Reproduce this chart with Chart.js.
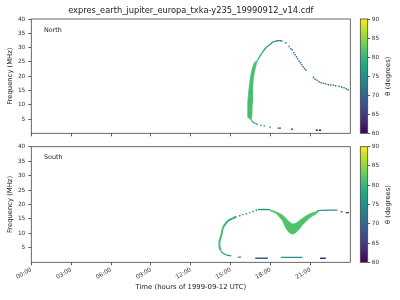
<!DOCTYPE html>
<html>
<head>
<meta charset="utf-8">
<script src="https://cdn.jsdelivr.net/npm/chart.js@4.4.1/dist/chart.umd.min.js"></script>
<style>
  html, body { margin: 0; padding: 0; background: #fff; }
  #wrap { position: relative; width: 400px; height: 300px; overflow: hidden; }
  canvas { position: absolute; }
</style>
</head>
<body>
<div id="wrap">
  <canvas id="north" width="381" height="140" style="left:0;top:0"></canvas>
  <canvas id="south" width="381" height="160" style="left:0;top:140px"></canvas>
  <canvas id="cbNorth" width="48" height="140" style="left:352px;top:0"></canvas>
  <canvas id="cbSouth" width="48" height="160" style="left:352px;top:140px"></canvas>
</div>
<script>
// axes
const hourTicks = [0, 3, 6, 9, 12, 15, 18, 21];
const hourLabels = ['00:00', '03:00', '06:00', '09:00', '12:00', '15:00', '18:00', '21:00'];
const freqTicks = [5, 10, 15, 20, 25, 30, 35, 40];
const thetaTicks = [60, 65, 70, 75, 80, 85, 90];

// North: thick band (left edge up, right edge down), time in hours, freq in MHz
const northBandT = [16.28, 16.28, 16.33, 16.40, 16.48, 16.60, 16.78, 17.03, 16.90, 16.78, 16.70, 16.65, 16.63, 16.60, 16.50];
const northBandF = [5.5, 10.7, 13.7, 16.6, 19.5, 22.4, 24.7, 25.7, 23.6, 21.2, 18.9, 15.4, 10.7, 6.0, 4.7];
const northBandTheta = 81;

// North: arc from band top to the peak
const northArcT = [17.03, 17.2, 17.45, 17.7, 17.96, 18.15, 18.4, 18.65, 18.9];
const northArcF = [25.7, 27.0, 28.8, 30.2, 31.1, 31.9, 32.3, 32.4, 32.3];
const northArcTheta = [80, 78.5, 77, 76, 75, 74, 73.5, 73, 72.5];

// North: dotted descent
const northDotsT = [19.15, 19.4, 19.53, 19.63, 19.75, 19.85, 19.95, 20.03, 20.15, 20.25, 20.35, 20.45, 20.55, 20.65,
  21.23, 21.35, 21.5, 21.65, 21.8, 21.98, 22.15, 22.35, 22.53, 22.73, 22.9, 23.15, 23.35, 23.53, 23.7, 23.85];
const northDotsF = [31.7, 30.4, 29.6, 29.15, 28.2, 27.5, 26.8, 26.1, 25.3, 24.7, 24.0, 23.3, 22.7, 22.15,
  19.6, 19.0, 18.55, 18.05, 17.7, 17.5, 17.25, 17.0, 16.9, 16.8, 16.65, 16.45, 16.2, 15.95, 15.6, 15.25];
const northDotsTheta = [72, 72, 71.5, 71.5, 71.5, 71.5, 71, 71, 71, 71, 71, 71, 71, 71,
  70.5, 70.5, 70.5, 70.5, 70.5, 70.5, 70, 70, 70, 70, 70, 70, 70, 70, 70, 70];

// North: low-frequency tail
const northTailT = [16.5, 16.53, 16.65, 16.85, 17.03];
const northTailF = [5.2, 4.9, 3.95, 3.5, 3.0];
const northTailTheta = [80, 79, 78, 77, 76.5];
const northTailDotsT = [17.28, 17.53, 17.95];
const northTailDotsF = [2.8, 2.55, 2.2];
const northTailDotsTheta = [76.5, 76.5, 76];

// North: short dashes (start, end, freq, theta)
const northDashT0 = [18.53, 19.53, 21.4, 21.65];
const northDashT1 = [18.78, 19.68, 21.55, 21.8];
const northDashF = [1.8, 1.45, 1.05, 1.05];
const northDashTheta = [67, 61, 60.5, 60.5];

// South: rising edge
const southRiseT = [14.23, 14.15, 14.15, 14.3, 14.4, 14.53, 14.78, 15.15, 15.43];
const southRiseF = [4.3, 5.5, 7.1, 9.45, 11.75, 12.9, 14.3, 15.2, 15.8];
const southRiseTheta = [80, 81, 81, 81, 80.5, 80, 79, 78, 77];
const southTailT = [14.23, 14.3, 14.43, 14.68, 15.05];
const southTailF = [4.3, 3.67, 3.1, 2.5, 2.2];
const southTailTheta = [80, 78, 77, 76.5, 76.5];

// South: dotted arc and flat top
const southDotsT = [15.68, 15.93, 16.18, 16.43, 16.68, 16.93];
const southDotsF = [16.1, 16.5, 16.8, 17.2, 17.6, 18.0];
const southDotsTheta = [76.5, 76, 76, 76, 75.5, 75.5];
const southTopT = [17.05, 17.5, 17.95];
const southTopF = [18.25, 18.3, 18.2];
const southTopTheta = [75.5, 75.5, 76];

// South: dip band (upper edge, then lower edge back)
const southDipT = [17.95, 18.4, 18.65, 18.9, 19.15, 19.4, 19.65, 19.9, 20.15, 20.4, 20.65, 20.9, 21.15, 21.4, 21.6,
  21.6, 21.4, 21.15, 20.9, 20.65, 20.4, 20.15, 19.9, 19.65, 19.4, 19.15, 18.9, 18.65, 18.4, 17.95];
const southDipF = [18.2, 17.5, 16.95, 16.4, 15.2, 14.05, 13.25, 13.5, 14.4, 15.2, 16.0, 16.7, 17.15, 17.5, 17.9,
  17.5, 16.7, 16.0, 15.2, 14.05, 12.9, 11.4, 10.25, 9.7, 10.25, 11.8, 14.4, 15.8, 16.95, 17.8];
const southDipTheta = 81.5;

// South: flat after the dip
const southFlatT = [21.5, 21.8, 22.4, 23.03];
const southFlatF = [17.8, 18.0, 18.05, 18.05];
const southFlatTheta = [76, 75.5, 75, 75];

// South: short dashes
const southDashT0 = [15.53, 16.85, 18.78, 21.73, 23.28, 23.65];
const southDashT1 = [15.78, 17.8, 20.4, 22.16, 23.4, 23.9];
const southDashF = [1.8, 1.4, 1.7, 1.4, 17.5, 17.2];
const southDashTheta = [76, 69, 75.5, 63, 68, 66];

Chart.defaults.font.family = "'DejaVu Sans', sans-serif";
Chart.defaults.color = '#333';

const viridisStops = [[68,1,84],[72,36,117],[65,68,135],[53,95,141],[42,120,142],[33,145,140],
  [34,168,132],[68,191,112],[122,209,81],[189,223,38],[253,231,37]];

function viridis(theta) {
  let u = (theta - 60) / 30;
  u = Math.max(0, Math.min(1, u));
  const p = u * 10, i = Math.min(9, Math.floor(p)), k = p - i;
  const a = viridisStops[i], b = viridisStops[i + 1];
  return 'rgb(' + a.map((c, j) => Math.round(c + (b[j] - c) * k)).join(',') + ')';
}

function pts(t, f) {
  return t.map((v, i) => ({x: v, y: f[i]}));
}

function band(t, f, theta) {
  return {data: pts(t, f), showLine: true, fill: 'shape', backgroundColor: viridis(theta),
    borderColor: viridis(theta), borderWidth: 0.6, pointRadius: 0};
}

function curve(t, f, theta, width) {
  return {data: pts(t, f), showLine: true, borderWidth: width, pointRadius: 0,
    borderColor: viridis(theta[0]),
    segment: {borderColor: c => viridis(theta[c.p0DataIndex])}};
}

function dots(t, f, theta) {
  const cols = theta.map(viridis);
  return {data: pts(t, f), showLine: false, pointStyle: 'rect', pointRadius: 1,
    pointBorderWidth: 0, pointBackgroundColor: cols, pointBorderColor: cols};
}

function dashes(t0, t1, f, theta) {
  return t0.map((a, i) => curve([a, t1[i]], [f[i], f[i]], [theta[i], theta[i]], 1.4));
}

const framePlugin = {
  id: 'frame',
  afterDraw(chart) {
    const {ctx, chartArea: a} = chart;
    ctx.save();
    ctx.strokeStyle = '#444';
    ctx.lineWidth = 0.8;
    ctx.strokeRect(a.left, a.top, a.right - a.left, a.bottom - a.top);
    ctx.restore();
  }
};

// panel tag inside the plot, and the figure title centred over the plot area
const panelLabel = {
  id: 'panelLabel',
  afterDraw(chart, args, opts) {
    const {ctx, chartArea: a} = chart;
    ctx.save();
    ctx.fillStyle = '#222';
    ctx.textBaseline = 'middle';
    if (opts.text) {
      ctx.font = '6.4px "DejaVu Sans"';
      ctx.fillText(opts.text, a.left + 12.7, a.top + 11);
    }
    if (opts.title) {
      ctx.font = '8.3px "DejaVu Sans"';
      ctx.textAlign = 'center';
      ctx.fillText(opts.title, (a.left + a.right) / 2, 10.8);
    }
    ctx.restore();
  }
};

const cbLabel = {
  id: 'cbLabel',
  afterDraw(chart) {
    const {ctx, chartArea: a} = chart;
    ctx.save();
    ctx.font = '6.8px "DejaVu Sans"';
    ctx.fillStyle = '#222';
    ctx.textAlign = 'center';
    ctx.textBaseline = 'middle';
    ctx.translate(36, (a.top + a.bottom) / 2);
    ctx.rotate(-Math.PI / 2);
    ctx.fillText('θ (degrees)', 0, 0);
    ctx.restore();
  }
};

function panel(id, datasets, label, isBottom) {
  return new Chart(document.getElementById(id), {
    type: 'scatter',
    data: {datasets: datasets},
    options: {
      responsive: false,
      animation: false,
      events: [],
      layout: {padding: {top: isBottom ? 6.7 : 19, right: 30.7, left: 0, bottom: 0}},
      plugins: {
        legend: {display: false},
        tooltip: {enabled: false},
        panelLabel: {
          text: label,
          title: isBottom ? '' : 'expres_earth_jupiter_europa_txka-y235_19990912_v14.cdf'
        }
      },
      scales: {
        x: {
          type: 'linear', min: 0, max: 24,
          afterBuildTicks: s => { s.ticks = hourTicks.map(v => ({value: v})); },
          afterFit: s => { s.height = isBottom ? 37.7 : 6.7; },
          grid: {drawOnChartArea: false, tickLength: 3, color: '#333', lineWidth: 0.8},
          border: {display: false},
          ticks: {
            display: isBottom, autoSkip: false, minRotation: 30, maxRotation: 30, padding: 1,
            font: {size: 5.8},
            callback: v => hourLabels[hourTicks.indexOf(v)]
          },
          title: {
            display: isBottom,
            text: 'Time (hours of 1999-09-12 UTC)',
            color: '#222',
            font: {size: 6.9},
            padding: {top: 0, bottom: 8.9}
          }
        },
        y: {
          min: 0, max: 40,
          afterBuildTicks: s => { s.ticks = freqTicks.map(v => ({value: v})); },
          afterFit: s => { s.width = 31.3; },
          grid: {drawOnChartArea: false, tickLength: 3, color: '#333', lineWidth: 0.8},
          border: {display: false},
          ticks: {padding: 3, font: {size: 5.8}},
          title: {
            display: true,
            text: 'Frequency (MHz)',
            color: '#222',
            font: {size: 6.8},
            padding: {top: 5.9, bottom: 0}
          }
        }
      }
    },
    plugins: [framePlugin, panelLabel]
  });
}

function gradientFill(ctx) {
  const a = ctx.chart.chartArea;
  if (!a) return viridis(75);
  const g = ctx.chart.ctx.createLinearGradient(0, a.bottom, 0, a.top);
  viridisStops.forEach((c, i) => g.addColorStop(i / 10, 'rgb(' + c.join(',') + ')'));
  return g;
}

function colorbar(id, padTop, padBottom) {
  return new Chart(document.getElementById(id), {
    type: 'bar',
    data: {
      labels: ['θ'],
      datasets: [{data: [[60, 90]], backgroundColor: gradientFill, borderWidth: 0,
        barPercentage: 1, categoryPercentage: 1}]
    },
    options: {
      responsive: false,
      animation: false,
      events: [],
      layout: {padding: {left: 8.3, top: padTop, bottom: padBottom, right: 0}},
      plugins: {legend: {display: false}, tooltip: {enabled: false}},
      scales: {
        x: {display: false},
        y: {
          position: 'right', min: 60, max: 90,
          afterBuildTicks: s => { s.ticks = thetaTicks.map(v => ({value: v})); },
          afterFit: s => { s.width = 32.3; },
          grid: {drawOnChartArea: false, tickLength: 2.5, color: '#333', lineWidth: 0.8},
          border: {display: false},
          ticks: {padding: 1.5, font: {size: 5.8}}
        }
      }
    },
    plugins: [framePlugin, cbLabel]
  });
}

panel('north', [
  band(northBandT, northBandF, northBandTheta),
  curve(northArcT, northArcF, northArcTheta, 1.3),
  dots(northDotsT, northDotsF, northDotsTheta),
  curve(northTailT, northTailF, northTailTheta, 1.2),
  dots(northTailDotsT, northTailDotsF, northTailDotsTheta)
].concat(dashes(northDashT0, northDashT1, northDashF, northDashTheta)), 'North', false);

panel('south', [
  curve(southRiseT, southRiseF, southRiseTheta, 2),
  curve(southTailT, southTailF, southTailTheta, 1.2),
  dots(southDotsT, southDotsF, southDotsTheta),
  curve(southTopT, southTopF, southTopTheta, 1.2),
  band(southDipT, southDipF, southDipTheta),
  curve(southFlatT, southFlatF, southFlatTheta, 1.2)
].concat(dashes(southDashT0, southDashT1, southDashF, southDashTheta)), 'South', true);

colorbar('cbNorth', 19, 6.7);
colorbar('cbSouth', 6.7, 37.7);
</script>
</body>
</html>
